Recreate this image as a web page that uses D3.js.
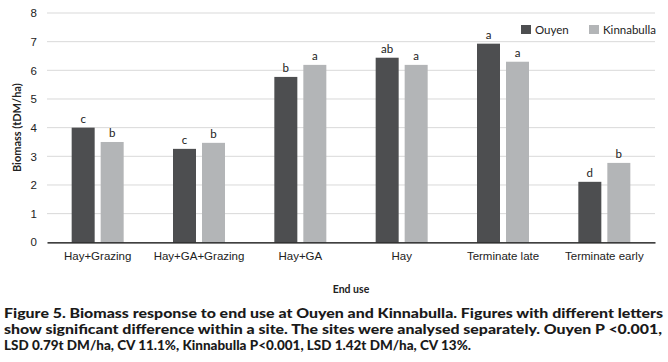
<!DOCTYPE html>
<html>
<head>
<meta charset="utf-8">
<script src="https://cdn.jsdelivr.net/npm/d3@7"></script>
<style>
  body { margin: 0; background: #fff; }
  svg { font-family: Lato, "Noto Sans", sans-serif; }
</style>
</head>
<body>
<svg id="chart" width="668" height="362"></svg>
<script>
var categories = ["Hay+Grazing", "Hay+GA+Grazing", "Hay+GA", "Hay", "Terminate late", "Terminate early"];
var sites = ["Ouyen", "Kinnabulla"];
var ouyen = [4.0, 3.26, 5.77, 6.44, 6.93, 2.11];
var kinnabulla = [3.50, 3.47, 6.19, 6.19, 6.30, 2.77];
var ouyenLetters = ["c", "c", "b", "ab", "a", "d"];
var kinnabullaLetters = ["b", "b", "a", "a", "a", "b"];
var yTicks = [0, 1, 2, 3, 4, 5, 6, 7, 8];
var captionLines = [
  "Figure 5. Biomass response to end use at Ouyen and Kinnabulla. Figures with different letters",
  "show significant difference within a site. The sites were analysed separately. Ouyen P <0.001,",
  "LSD 0.79t DM/ha, CV 11.1%, Kinnabulla P<0.001, LSD 1.42t DM/ha, CV 13%."
];

var colors = { "Ouyen": "#4d4e50", "Kinnabulla": "#b3b5b7" };

var svg = d3.select("#chart");
var margin = { left: 47, top: 13, right: 13, bottom: 120 };
var width = 655 - margin.left, height = 242.3 - margin.top;

var g = svg.append("g").attr("transform", "translate(" + margin.left + "," + margin.top + ")");

var x = d3.scaleBand().domain(categories).range([0, width]);
var y = d3.scaleLinear().domain([0, 8]).range([height, 0]);

// gridlines
g.selectAll(".grid").data(yTicks.filter(function(d) { return d > 0; })).enter().append("line")
  .attr("x1", 0).attr("x2", width)
  .attr("y1", function(d) { return y(d); }).attr("y2", function(d) { return y(d); })
  .attr("stroke", "#d9d9d9").attr("stroke-width", 1);

var yAxis = d3.axisLeft(y).tickValues(yTicks).tickSize(0).tickPadding(10);
g.append("g").call(yAxis)
  .call(function(a) { a.select(".domain").remove(); })
  .selectAll("text").attr("font-size", "11.5px").attr("fill", "#222");

var bw = 23, gap = 6;
var rows = categories.map(function(c, i) {
  return [
    { cat: c, site: "Ouyen", v: ouyen[i], l: ouyenLetters[i], k: 0 },
    { cat: c, site: "Kinnabulla", v: kinnabulla[i], l: kinnabullaLetters[i], k: 1 }
  ];
});
var flat = [].concat.apply([], rows);

function barX(d) {
  var c = x(d.cat) + x.bandwidth() / 2;
  return d.k === 0 ? c - gap / 2 - bw : c + gap / 2;
}

g.selectAll(".bar").data(flat).enter().append("rect")
  .attr("x", barX).attr("width", bw)
  .attr("y", function(d) { return y(d.v); })
  .attr("height", function(d) { return height - y(d.v); })
  .attr("fill", function(d) { return colors[d.site]; });

g.selectAll(".letter").data(flat).enter().append("text")
  .attr("x", function(d) { return barX(d) + bw / 2; })
  .attr("y", function(d) { return y(d.v) - 5; })
  .attr("text-anchor", "middle").attr("font-size", "11.5px").attr("fill", "#222")
  .text(function(d) { return d.l; });

// x axis
var xAxis = d3.axisBottom(x).tickSize(0).tickPadding(10);
var xa = g.append("g").attr("transform", "translate(0," + height + ")").call(xAxis);
xa.select(".domain").attr("stroke", "#000").attr("stroke-width", 1.2);
xa.selectAll("text").attr("font-size", "11.5px").attr("fill", "#222");

// axis titles
svg.append("text").attr("transform", "translate(21," + (margin.top + height / 2) + ") rotate(-90)")
  .attr("text-anchor", "middle").attr("font-size", "11px").attr("font-weight", "bold").attr("fill", "#222")
  .text("Biomass (tDM/ha)");
svg.append("text").attr("x", margin.left + width / 2).attr("y", 293)
  .attr("text-anchor", "middle").attr("font-size", "10.5px").attr("font-weight", "bold").attr("fill", "#222")
  .text("End use");

// legend
var legendX = [521, 589];
var lg = svg.selectAll(".leg").data(sites).enter().append("g")
  .attr("transform", function(d, i) { return "translate(" + legendX[i] + ",25)"; });
lg.append("rect").attr("width", 10).attr("height", 9).attr("fill", function(d) { return colors[d]; });
lg.append("text").attr("x", 14).attr("y", 8.5).attr("font-size", "11.5px").attr("fill", "#222").text(function(d) { return d; });

// caption
var capWidths = [659, 658, 467];
svg.selectAll(".cap").data(captionLines).enter().append("text")
  .attr("x", 4).attr("y", function(d, i) { return 317.5 + i * 16; })
  .attr("font-size", "14px").attr("font-weight", "900").attr("fill", "#1a1a1a")
  .attr("textLength", function(d, i) { return capWidths[i]; })
  .attr("lengthAdjust", "spacingAndGlyphs")
  .text(function(d) { return d; });
</script>
</body>
</html>
